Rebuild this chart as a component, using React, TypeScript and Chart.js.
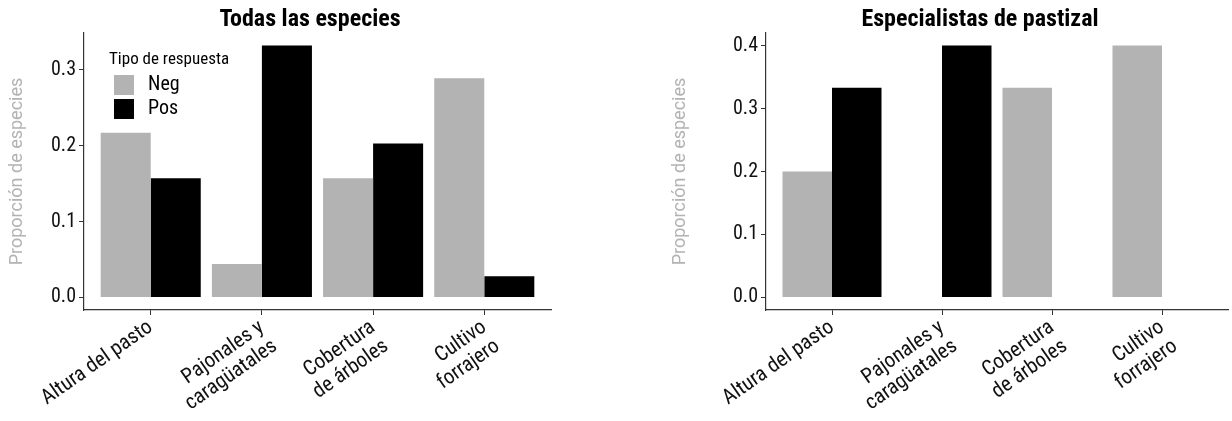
import React, { useEffect, useRef } from "react";
import { Chart, registerables } from "chart.js";

Chart.register(...registerables);

// ---------- data ----------
const CATEGORIES: string[][] = [
  ["Altura del pasto"],
  ["Pajonales y", "caragüatales"],
  ["Cobertura", "de árboles"],
  ["Cultivo", "forrajero"],
];
const SERIES = ["Neg", "Pos"];
const TODAS_NEG = [0.217, 0.044, 0.157, 0.289];
const TODAS_POS = [0.157, 0.332, 0.203, 0.028];
const ESPEC_NEG: (number | null)[] = [0.2, null, 0.333, 0.4];
const ESPEC_POS: (number | null)[] = [0.333, 0.4, null, null];
const TODAS_TICKS = [0, 0.1, 0.2, 0.3];
const ESPEC_TICKS = [0, 0.1, 0.2, 0.3, 0.4];
const TITLES = ["Todas las especies", "Especialistas de pastizal"];
const Y_TITLE = "Proporción de especies";
const LEGEND_TITLE = "Tipo de respuesta";

const COLORS = ["#b3b3b3", "#000000"];
const NARROW = '"Liberation Sans Narrow", "Roboto Condensed", "DejaVu Sans Condensed", sans-serif';
const AXIS_COLOR = "#333333";

type PanelProps = {
  left: number;
  width: number;
  height: number;
  plotLeft: number;
  plotRight: number;
  plotTop: number;
  plotBottom: number;
  title: string;
  titleX: number;
  yTitleX: number;
  neg: (number | null)[];
  pos: (number | null)[];
  yTicks: number[];
  legend: boolean;
};

const overlayPlugin = {
  id: "overlay",
  afterDraw(chart: any, _args: any, opts: any) {
    const ctx = chart.ctx as CanvasRenderingContext2D;
    const area = chart.chartArea;
    ctx.save();
    // title
    ctx.fillStyle = "#000";
    ctx.font = `bold 24px ${NARROW}`;
    ctx.textAlign = "center";
    ctx.textBaseline = "middle";
    ctx.fillText(opts.title, opts.titleX, 20);
    // y title
    ctx.save();
    ctx.translate(opts.yTitleX, (area.top + area.bottom) / 2);
    ctx.rotate(-Math.PI / 2);
    ctx.font = `400 18px Roboto, "Open Sans", sans-serif`;
    ctx.fillStyle = "#b3b3b3";
    ctx.fillText(Y_TITLE, 0, 0);
    ctx.restore();
    // legend
    if (opts.legend) {
      ctx.textAlign = "left";
      ctx.textBaseline = "middle";
      ctx.fillStyle = "#000";
      ctx.font = `17px ${NARROW}`;
      ctx.fillText(LEGEND_TITLE, 109, 60);
      SERIES.forEach((name, i) => {
        const y = 75 + i * 24;
        ctx.fillStyle = COLORS[i];
        ctx.fillRect(114, y, 20, 20);
        ctx.fillStyle = "#000";
        ctx.font = `20px ${NARROW}`;
        ctx.fillText(name, 148, y + 10);
      });
    }
    ctx.restore();
  },
};

function BarPanel(p: PanelProps) {
  const ref = useRef<HTMLCanvasElement | null>(null);
  useEffect(() => {
    if (!ref.current) return;
    const dataMax = Math.max(
      ...p.neg.filter((v) => v !== null).map((v) => v as number),
      ...p.pos.filter((v) => v !== null).map((v) => v as number)
    );
    const yMax = dataMax * 1.05;
    const yMin = -dataMax * 0.05;
    const idx = CATEGORIES.map((_, i) => i);
    const chart = new Chart(ref.current, {
      type: "bar",
      data: {
        datasets: [
          {
            label: SERIES[0],
            data: idx.map((i) => ({ x: i, y: p.neg[i] })),
            backgroundColor: COLORS[0],
            borderWidth: 0,
            categoryPercentage: 0.9,
            barPercentage: 1,
          },
          {
            label: SERIES[1],
            data: idx.map((i) => ({ x: i, y: p.pos[i] })),
            backgroundColor: COLORS[1],
            borderWidth: 0,
            categoryPercentage: 0.9,
            barPercentage: 1,
          },
        ] as any,
      },
      options: {
        animation: false,
        responsive: false,
        devicePixelRatio: 1,
        layout: {
          padding: {
            left: 0,
            top: p.plotTop,
            right: p.width - p.plotRight,
            bottom: 0,
          },
        },
        plugins: {
          legend: { display: false },
          tooltip: { enabled: false },
          title: { display: false },
          overlay: {
            title: p.title,
            titleX: p.titleX,
            yTitleX: p.yTitleX,
            legend: p.legend,
          },
        } as any,
        scales: {
          x: {
            type: "linear",
            min: -0.6,
            max: CATEGORIES.length - 1 + 0.6,
            offset: false,
            afterBuildTicks: (scale: any) => {
              scale.ticks = idx.map((v) => ({ value: v }));
            },
            afterFit: (scale: any) => {
              scale.height = p.height - p.plotBottom;
            },
            ticks: {
              autoSkip: false,
              minRotation: 35,
              maxRotation: 35,
              padding: 1,
              color: "#111",
              font: { family: NARROW, size: 21, lineHeight: 1.1 },
              callback: (v: any) => CATEGORIES[Math.round(Number(v))] as any,
            },
            grid: {
              display: true,
              offset: false,
              drawOnChartArea: false,
              drawTicks: true,
              tickLength: 5,
              color: AXIS_COLOR,
              lineWidth: 1,
            },
            border: { display: true, color: AXIS_COLOR, width: 1.2 },
          },
          y: {
            type: "linear",
            min: yMin,
            max: yMax,
            afterBuildTicks: (scale: any) => {
              scale.ticks = p.yTicks.map((v) => ({ value: v }));
            },
            afterFit: (scale: any) => {
              scale.width = p.plotLeft;
            },
            ticks: {
              padding: 3,
              color: "#111",
              font: { family: NARROW, size: 20 },
              callback: (v: any) => Number(v).toFixed(1),
            },
            grid: {
              display: true,
              offset: false,
              drawOnChartArea: false,
              drawTicks: true,
              tickLength: 5,
              color: AXIS_COLOR,
              lineWidth: 1,
            },
            border: { display: true, color: AXIS_COLOR, width: 1.2 },
          },
        },
      } as any,
      plugins: [overlayPlugin as any],
    });
    return () => chart.destroy();
  }, []);
  return (
    <canvas
      ref={ref}
      width={p.width}
      height={p.height}
      style={{ position: "absolute", left: p.left, top: 0, width: p.width, height: p.height }}
    />
  );
}

export default function App() {
  return (
    <div
      style={{
        position: "absolute",
        left: 0,
        top: 0,
        width: 1232,
        height: 421,
        background: "#fff",
        overflow: "hidden",
      }}
    >
      <BarPanel
        left={0}
        width={616}
        height={421}
        plotLeft={84}
        plotRight={551}
        plotTop={33}
        plotBottom={310}
        title={TITLES[0]}
        titleX={310}
        yTitleX={17}
        neg={TODAS_NEG}
        pos={TODAS_POS}
        yTicks={TODAS_TICKS}
        legend={true}
      />
      <BarPanel
        left={616}
        width={616}
        height={421}
        plotLeft={150}
        plotRight={612}
        plotTop={33}
        plotBottom={310}
        title={TITLES[1]}
        titleX={364}
        yTitleX={64}
        neg={ESPEC_NEG}
        pos={ESPEC_POS}
        yTicks={ESPEC_TICKS}
        legend={false}
      />
    </div>
  );
}
